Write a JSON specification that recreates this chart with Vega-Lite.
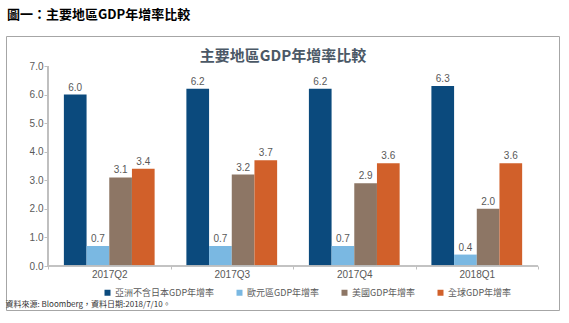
{
  "$schema": "https://vega.github.io/schema/vega-lite/v6.json",
  "width": 553,
  "height": 274,
  "autosize": {"type": "none"},
  "padding": {"left": 6, "top": 36, "right": 10, "bottom": 13},
  "background": "white",
  "config": {
    "view": {"stroke": "#a6a6a6", "strokeWidth": 1},
    "font": "Liberation Sans"
  },
  "title": {
    "text": "圖一：主要地區GDP年增率比較",
    "anchor": "start",
    "frame": "group",
    "offset": 14,
    "dx": 1,
    "font": "Noto Sans CJK TC",
    "fontSize": 13,
    "fontWeight": "bold",
    "color": "#000000"
  },
  "data": {
    "values": [
      {"q": "2017Q2", "s": "亞洲不含日本GDP年增率", "v": 6.0},
      {"q": "2017Q2", "s": "歐元區GDP年增率", "v": 0.7},
      {"q": "2017Q2", "s": "美國GDP年增率", "v": 3.1},
      {"q": "2017Q2", "s": "全球GDP年增率", "v": 3.4},
      {"q": "2017Q3", "s": "亞洲不含日本GDP年增率", "v": 6.2},
      {"q": "2017Q3", "s": "歐元區GDP年增率", "v": 0.7},
      {"q": "2017Q3", "s": "美國GDP年增率", "v": 3.2},
      {"q": "2017Q3", "s": "全球GDP年增率", "v": 3.7},
      {"q": "2017Q4", "s": "亞洲不含日本GDP年增率", "v": 6.2},
      {"q": "2017Q4", "s": "歐元區GDP年增率", "v": 0.7},
      {"q": "2017Q4", "s": "美國GDP年增率", "v": 2.9},
      {"q": "2017Q4", "s": "全球GDP年增率", "v": 3.6},
      {"q": "2018Q1", "s": "亞洲不含日本GDP年增率", "v": 6.3},
      {"q": "2018Q1", "s": "歐元區GDP年增率", "v": 0.4},
      {"q": "2018Q1", "s": "美國GDP年增率", "v": 2.0},
      {"q": "2018Q1", "s": "全球GDP年增率", "v": 3.6}
    ]
  },
  "layer": [
    {
      "mark": {"type": "bar"},
      "encoding": {
        "x": {
          "field": "q", "type": "nominal", "sort": null,
          "scale": {"paddingInner": 0, "paddingOuter": 0.257, "align": 0.667},
          "axis": {
            "orient": "bottom", "offset": -44, "domain": false, "grid": false,
            "tickBand": "extent", "tickSize": 3, "tickColor": "#bfbfbf",
            "labelAngle": 0, "labelPadding": 0, "labelFontSize": 10, "labelColor": "#595959",
            "labelFont": "Liberation Sans",
            "title": "資料來源: Bloomberg，資料日期:2018/7/10。",
            "titleX": -1, "titleY": 38, "titleAlign": "left", "titleBaseline": "middle",
            "titleFont": "Noto Sans CJK TC", "titleFontSize": 8, "titleFontWeight": "normal",
            "titleColor": "#333333", "titleAnchor": "start"
          }
        },
        "xOffset": {
          "field": "s", "type": "nominal",
          "sort": ["亞洲不含日本GDP年增率", "歐元區GDP年增率", "美國GDP年增率", "全球GDP年增率"],
          "scale": {"paddingInner": 0, "paddingOuter": 0.7}
        },
        "y": {
          "field": "v", "type": "quantitative",
          "scale": {"domain": [-1.54, 8.05], "nice": false, "zero": false},
          "axis": {
            "orient": "left", "offset": -42, "domain": false, "grid": false,
            "values": [0, 1, 2, 3, 4, 5, 6, 7], "format": ".1f", "labelOverlap": false,
            "tickSize": 4, "tickColor": "#bfbfbf", "labelPadding": 1,
            "labelFontSize": 10, "labelColor": "#595959", "labelFont": "Liberation Sans",
            "title": "主要地區GDP年增率比較",
            "titleAngle": 0, "titleX": 234.5, "titleY": 19, "titleAlign": "center",
            "titleBaseline": "middle", "titleFont": "Noto Sans CJK TC", "titleFontSize": 15,
            "titleFontWeight": "bold", "titleColor": "#4b5866"
          }
        },
        "color": {
          "field": "s", "type": "nominal",
          "scale": {
            "domain": ["亞洲不含日本GDP年增率", "歐元區GDP年增率", "美國GDP年增率", "全球GDP年增率"],
            "range": ["#0b4a7d", "#7ab8e2", "#8d7665", "#d1602a"]
          },
          "legend": {
            "orient": "none", "legendX": 97, "legendY": 252, "direction": "horizontal",
            "title": null, "symbolType": "square", "symbolSize": 36, "symbolStrokeWidth": 0,
            "labelFont": "Noto Sans CJK TC", "labelFontSize": 9, "labelColor": "#595959",
            "columnPadding": 20, "labelOffset": 3
          }
        }
      }
    },
    {
      "mark": {"type": "text", "dy": -7, "fontSize": 10, "color": "#595959", "font": "Liberation Sans"},
      "encoding": {
        "x": {"field": "q", "type": "nominal", "sort": null},
        "xOffset": {"field": "s", "type": "nominal", "sort": ["亞洲不含日本GDP年增率", "歐元區GDP年增率", "美國GDP年增率", "全球GDP年增率"]},
        "y": {
          "field": "v", "type": "quantitative",
          "axis": {
            "orient": "left", "offset": -42, "domain": false, "grid": false,
            "values": [0, 1, 2, 3, 4, 5, 6, 7], "format": ".1f", "labelOverlap": false,
            "tickSize": 4, "tickColor": "#bfbfbf", "labelPadding": 1,
            "labelFontSize": 10, "labelColor": "#595959", "labelFont": "Liberation Sans",
            "title": "主要地區GDP年增率比較",
            "titleAngle": 0, "titleX": 234.5, "titleY": 19, "titleAlign": "center",
            "titleBaseline": "middle", "titleFont": "Noto Sans CJK TC", "titleFontSize": 15,
            "titleFontWeight": "bold", "titleColor": "#4b5866"
          }
        },
        "text": {"field": "v", "type": "quantitative", "format": ".1f"}
      }
    },
    {
      "mark": {"type": "rule", "color": "#bfbfbf", "strokeWidth": 1},
      "encoding": {
        "x": {"field": "q", "type": "nominal", "sort": null, "bandPosition": 0},
        "x2": {"field": "q", "bandPosition": 1},
        "y": {
          "datum": 0, "type": "quantitative",
          "axis": {
            "orient": "left", "offset": -42, "domain": false, "grid": false,
            "values": [0, 1, 2, 3, 4, 5, 6, 7], "format": ".1f", "labelOverlap": false,
            "tickSize": 4, "tickColor": "#bfbfbf", "labelPadding": 1,
            "labelFontSize": 10, "labelColor": "#595959", "labelFont": "Liberation Sans",
            "title": "主要地區GDP年增率比較",
            "titleAngle": 0, "titleX": 234.5, "titleY": 19, "titleAlign": "center",
            "titleBaseline": "middle", "titleFont": "Noto Sans CJK TC", "titleFontSize": 15,
            "titleFontWeight": "bold", "titleColor": "#4b5866"
          }
        }
      }
    },
    {
      "mark": {"type": "rule", "color": "#bfbfbf", "strokeWidth": 1},
      "encoding": {
        "x": {"datum": "2017Q2", "type": "nominal", "bandPosition": 0},
        "y": {
          "datum": 0, "type": "quantitative",
          "axis": {
            "orient": "left", "offset": -42, "domain": false, "grid": false,
            "values": [0, 1, 2, 3, 4, 5, 6, 7], "format": ".1f", "labelOverlap": false,
            "tickSize": 4, "tickColor": "#bfbfbf", "labelPadding": 1,
            "labelFontSize": 10, "labelColor": "#595959", "labelFont": "Liberation Sans",
            "title": "主要地區GDP年增率比較",
            "titleAngle": 0, "titleX": 234.5, "titleY": 19, "titleAlign": "center",
            "titleBaseline": "middle", "titleFont": "Noto Sans CJK TC", "titleFontSize": 15,
            "titleFontWeight": "bold", "titleColor": "#4b5866"
          }
        },
        "y2": {"datum": 7}
      }
    }
  ]
}
